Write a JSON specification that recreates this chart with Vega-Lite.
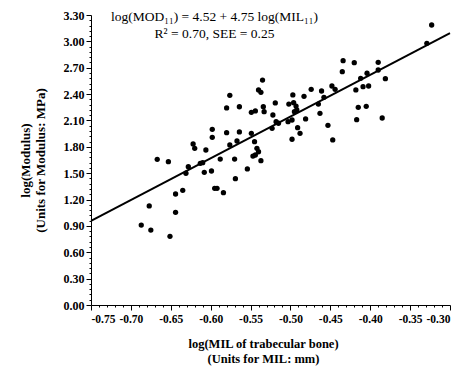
{
  "$schema": "https://vega.github.io/schema/vega-lite/v6.json",
  "width": 359,
  "height": 290,
  "autosize": "none",
  "padding": {"left": 91, "top": 15, "right": 13, "bottom": 68},
  "background": "white",
  "title": {
    "text": ["log(MOD₁₁) = 4.52 + 4.75 log(MIL₁₁)", "R² = 0.70,  SEE = 0.25"],
    "font": "Liberation Serif",
    "fontSize": 13.5,
    "fontWeight": "normal",
    "color": "black",
    "anchor": "middle",
    "frame": "group",
    "orient": "top",
    "baseline": "top",
    "offset": 0,
    "lineHeight": 17,
    "dx": -56,
    "dy": 31
  },
  "config": {
    "view": {"stroke": null},
    "font": "Liberation Serif",
    "axis": {
      "domainColor": "black",
      "tickColor": "black",
      "labelColor": "black",
      "titleColor": "black",
      "labelFont": "Liberation Serif",
      "titleFont": "Liberation Serif",
      "labelFontWeight": "bold",
      "titleFontWeight": "bold",
      "labelFontSize": 12,
      "titleFontSize": 13,
      "grid": false,
      "labelOverlap": false,
      "labelBound": false,
      "titleLineHeight": 15
    }
  },
  "datasets": {
    "pts": [
      {"mil": -0.667, "mod": 1.658}, {"mil": -0.653, "mod": 1.631}, {"mil": -0.622, "mod": 1.832}, {"mil": -0.620, "mod": 1.783},
      {"mil": -0.606, "mod": 1.764}, {"mil": -0.628, "mod": 1.574}, {"mil": -0.631, "mod": 1.499}, {"mil": -0.613, "mod": 1.612},
      {"mil": -0.610, "mod": 1.619}, {"mil": -0.608, "mod": 1.510}, {"mil": -0.599, "mod": 1.525}, {"mil": -0.595, "mod": 1.328},
      {"mil": -0.644, "mod": 1.263}, {"mil": -0.635, "mod": 1.305}, {"mil": -0.677, "mod": 1.127}, {"mil": -0.644, "mod": 1.055},
      {"mil": -0.687, "mod": 0.910}, {"mil": -0.675, "mod": 0.853}, {"mil": -0.651, "mod": 0.782}, {"mil": -0.535, "mod": 2.560},
      {"mil": -0.540, "mod": 2.447}, {"mil": -0.537, "mod": 2.420}, {"mil": -0.576, "mod": 2.386}, {"mil": -0.580, "mod": 2.242},
      {"mil": -0.564, "mod": 2.256}, {"mil": -0.549, "mod": 2.193}, {"mil": -0.544, "mod": 2.208}, {"mil": -0.534, "mod": 2.256},
      {"mil": -0.533, "mod": 2.200}, {"mil": -0.519, "mod": 2.299}, {"mil": -0.497, "mod": 2.390}, {"mil": -0.483, "mod": 2.375},
      {"mil": -0.474, "mod": 2.454}, {"mil": -0.461, "mod": 2.435}, {"mil": -0.502, "mod": 2.287}, {"mil": -0.496, "mod": 2.302},
      {"mil": -0.493, "mod": 2.264}, {"mil": -0.495, "mod": 2.200}, {"mil": -0.492, "mod": 2.219}, {"mil": -0.465, "mod": 2.287},
      {"mil": -0.463, "mod": 2.181}, {"mil": -0.522, "mod": 2.162}, {"mil": -0.518, "mod": 2.086}, {"mil": -0.515, "mod": 2.068},
      {"mil": -0.523, "mod": 2.011}, {"mil": -0.503, "mod": 2.086}, {"mil": -0.498, "mod": 2.105}, {"mil": -0.481, "mod": 2.117},
      {"mil": -0.491, "mod": 2.018}, {"mil": -0.488, "mod": 1.954}, {"mil": -0.498, "mod": 1.886}, {"mil": -0.598, "mod": 1.999},
      {"mil": -0.598, "mod": 1.908}, {"mil": -0.580, "mod": 1.961}, {"mil": -0.564, "mod": 1.969}, {"mil": -0.549, "mod": 1.954},
      {"mil": -0.576, "mod": 1.821}, {"mil": -0.567, "mod": 1.866}, {"mil": -0.545, "mod": 1.858}, {"mil": -0.542, "mod": 1.783},
      {"mil": -0.540, "mod": 1.744}, {"mil": -0.547, "mod": 1.695}, {"mil": -0.544, "mod": 1.707}, {"mil": -0.537, "mod": 1.642},
      {"mil": -0.588, "mod": 1.661}, {"mil": -0.570, "mod": 1.661}, {"mil": -0.554, "mod": 1.548}, {"mil": -0.569, "mod": 1.437},
      {"mil": -0.592, "mod": 1.328}, {"mil": -0.584, "mod": 1.278}, {"mil": -0.323, "mod": 3.186}, {"mil": -0.329, "mod": 2.978},
      {"mil": -0.434, "mod": 2.780}, {"mil": -0.420, "mod": 2.757}, {"mil": -0.435, "mod": 2.655}, {"mil": -0.390, "mod": 2.762},
      {"mil": -0.404, "mod": 2.637}, {"mil": -0.412, "mod": 2.580}, {"mil": -0.381, "mod": 2.575}, {"mil": -0.390, "mod": 2.674},
      {"mil": -0.448, "mod": 2.492}, {"mil": -0.444, "mod": 2.454}, {"mil": -0.458, "mod": 2.363}, {"mil": -0.418, "mod": 2.447},
      {"mil": -0.409, "mod": 2.484}, {"mil": -0.402, "mod": 2.492}, {"mil": -0.415, "mod": 2.250}, {"mil": -0.405, "mod": 2.261},
      {"mil": -0.417, "mod": 2.109}, {"mil": -0.385, "mod": 2.128}, {"mil": -0.453, "mod": 2.045}, {"mil": -0.447, "mod": 1.878}
    ],
    "fit": [
      {"mil": -0.75, "mod": 0.9575},
      {"mil": -0.30, "mod": 3.095}
    ]
  },
  "encoding": {
    "x": {
      "field": "mil", "type": "quantitative",
      "scale": {"domain": [-0.75, -0.30], "nice": false, "zero": false},
      "axis": {
        "title": ["log(MIL of trabecular bone)", "(Units for MIL:  mm)"],
        "titleFontSize": 12.5,
        "titleX": 172,
        "values": [-0.75,-0.74,-0.73,-0.72,-0.71,-0.70,-0.69,-0.68,-0.67,-0.66,-0.65,-0.64,-0.63,-0.62,-0.61,-0.60,-0.59,-0.58,-0.57,-0.56,-0.55,-0.54,-0.53,-0.52,-0.51,-0.50,-0.49,-0.48,-0.47,-0.46,-0.45,-0.44,-0.43,-0.42,-0.41,-0.40,-0.39,-0.38,-0.37,-0.36,-0.35,-0.34,-0.33,-0.32,-0.31,-0.30],
        "labelExpr": "abs(round(datum.value*100)) % 5 == 0 ? '-' + format(abs(datum.value), '.2f') : ''",
        "tickSize": {"condition": {"test": "abs(round(datum.value*100)) % 5 == 0", "value": 5}, "value": 2},
        "labelFontSize": 11.5,
        "labelPadding": 3,
        "titlePadding": 13
      }
    },
    "y": {
      "field": "mod", "type": "quantitative",
      "scale": {"domain": [0, 3.3], "nice": false, "zero": false},
      "axis": {
        "title": ["log(Modulus)", "(Units for Modulus:  MPa)"],
        "values": [0,0.06,0.12,0.18,0.24,0.3,0.36,0.42,0.48,0.54,0.6,0.66,0.72,0.78,0.84,0.9,0.96,1.02,1.08,1.14,1.2,1.26,1.32,1.38,1.44,1.5,1.56,1.62,1.68,1.74,1.8,1.86,1.92,1.98,2.04,2.1,2.16,2.22,2.28,2.34,2.4,2.46,2.52,2.58,2.64,2.7,2.76,2.82,2.88,2.94,3,3.06,3.12,3.18,3.24,3.3],
        "labelExpr": "abs(round(datum.value*100)) % 30 == 0 ? format(datum.value, '.2f') : ''",
        "tickSize": {"condition": {"test": "abs(round(datum.value*100)) % 30 == 0", "value": 5}, "value": 2},
        "labelPadding": 2,
        "titlePadding": 16
      }
    }
  },
  "layer": [
    {
      "data": {"name": "pts"},
      "mark": {"type": "circle", "color": "black", "opacity": 1, "size": 28}
    },
    {
      "data": {"name": "fit"},
      "mark": {"type": "line", "color": "black", "strokeWidth": 2}
    }
  ]
}
